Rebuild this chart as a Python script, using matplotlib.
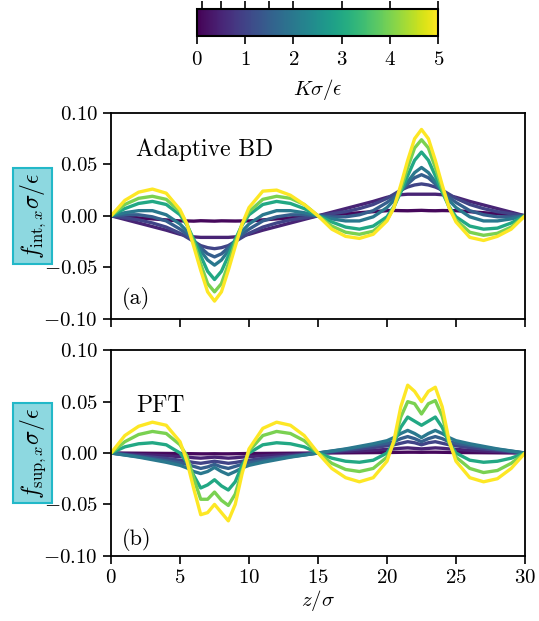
"""Interaction vs. superadiabatic force profiles for several trap strengths."""

import matplotlib

matplotlib.use("Agg")
import matplotlib.pyplot as plt

plt.rcParams["font.family"] = "serif"
plt.rcParams["font.serif"] = ["cmr10"]
plt.rcParams["mathtext.fontset"] = "cm"
plt.rcParams["axes.formatter.use_mathtext"] = True
plt.rcParams["axes.unicode_minus"] = True

# z/sigma sample positions (denser around the peaks)
z = [0, 1, 2, 3, 4, 5, 5.5, 6, 6.5, 7, 7.5, 8, 8.5, 9, 9.5, 10, 11, 12, 13, 14, 15,
     16, 17, 18, 19, 20, 20.5, 21, 21.5, 22, 22.5, 23, 23.5, 24, 24.5, 25, 26, 27, 28, 29, 30]

# K sigma / epsilon of each curve
k_values = [0.1, 0.5, 1.0, 1.5, 2.0, 3.0, 4.0, 5.0]

# (a) Adaptive BD: f_int,x sigma / epsilon
f_int = [
    [0, -0.001, -0.002, -0.003, -0.004, -0.005, -0.005, -0.0052, -0.0048, -0.005, -0.0052,
     -0.0049, -0.005, -0.0051, -0.005, -0.005, -0.004, -0.003, -0.002, -0.001, 0,
     0.001, 0.002, 0.003, 0.004, 0.005, 0.0052, 0.005, 0.0049, 0.0051, 0.0053, 0.005,
     0.0049, 0.0051, 0.005, 0.005, 0.004, 0.003, 0.002, 0.001, 0],
    [0, -0.0035, -0.007, -0.0105, -0.014, -0.018, -0.0195, -0.0205, -0.021, -0.021, -0.021,
     -0.021, -0.021, -0.0205, -0.0195, -0.018, -0.014, -0.0105, -0.007, -0.0035, 0,
     0.0035, 0.007, 0.0105, 0.014, 0.018, 0.0195, 0.0205, 0.021, 0.021, 0.021, 0.021,
     0.021, 0.0205, 0.0195, 0.018, 0.014, 0.0105, 0.007, 0.0035, 0],
    [0, -0.002, -0.004, -0.007, -0.011, -0.017, -0.021, -0.025, -0.029, -0.031, -0.032,
     -0.031, -0.029, -0.025, -0.021, -0.017, -0.011, -0.007, -0.004, -0.002, 0,
     0.002, 0.004, 0.007, 0.011, 0.017, 0.021, 0.025, 0.028, 0.030, 0.031, 0.030,
     0.028, 0.025, 0.021, 0.017, 0.011, 0.007, 0.004, 0.002, 0],
    [0, 0.001, 0.001, -0.001, -0.005, -0.013, -0.018, -0.024, -0.031, -0.037, -0.040,
     -0.037, -0.031, -0.024, -0.018, -0.013, -0.005, -0.001, 0.001, 0.001, 0,
     -0.001, -0.001, 0.001, 0.005, 0.013, 0.018, 0.024, 0.031, 0.037, 0.040, 0.037,
     0.031, 0.024, 0.018, 0.013, 0.005, 0.001, -0.001, -0.001, 0],
    [0, 0.003, 0.005, 0.005, 0.001, -0.008, -0.015, -0.024, -0.034, -0.043, -0.048,
     -0.043, -0.034, -0.024, -0.015, -0.008, 0.001, 0.005, 0.005, 0.003, 0,
     -0.003, -0.005, -0.005, -0.001, 0.008, 0.015, 0.024, 0.033, 0.042, 0.047, 0.042,
     0.033, 0.024, 0.015, 0.008, -0.001, -0.005, -0.005, -0.003, 0],
    [0, 0.007, 0.012, 0.014, 0.011, 0.001, -0.009, -0.023, -0.039, -0.054, -0.062,
     -0.054, -0.039, -0.023, -0.009, 0.001, 0.011, 0.014, 0.012, 0.007, 0,
     -0.006, -0.011, -0.013, -0.010, -0.001, 0.009, 0.023, 0.039, 0.054, 0.062, 0.054,
     0.039, 0.023, 0.009, -0.001, -0.010, -0.013, -0.012, -0.007, 0],
    [0, 0.011, 0.017, 0.019, 0.016, 0.004, -0.008, -0.026, -0.047, -0.066, -0.074,
     -0.066, -0.047, -0.026, -0.008, 0.004, 0.016, 0.019, 0.017, 0.011, 0,
     -0.010, -0.016, -0.018, -0.015, -0.004, 0.008, 0.026, 0.047, 0.066, 0.074, 0.066,
     0.047, 0.026, 0.008, -0.004, -0.016, -0.019, -0.017, -0.011, 0],
    [0, 0.015, 0.023, 0.026, 0.022, 0.006, -0.008, -0.030, -0.053, -0.074, -0.083,
     -0.074, -0.053, -0.030, -0.008, 0.008, 0.024, 0.025, 0.020, 0.011, 0,
     -0.013, -0.020, -0.022, -0.018, -0.005, 0.008, 0.030, 0.054, 0.075, 0.084, 0.075,
     0.054, 0.030, 0.008, -0.006, -0.021, -0.024, -0.020, -0.013, 0],
]

# (b) PFT: f_sup,x sigma / epsilon
f_sup = [
    [0, -0.0001, -0.0002, -0.0003, -0.0004, -0.0005, -0.0006, -0.0007, -0.0008, -0.0008,
     -0.0007, -0.0008, -0.0008, -0.0007, -0.0006, -0.0005, -0.0004, -0.0003, -0.0002,
     -0.0001, 0,
     0.0001, 0.0002, 0.0003, 0.0004, 0.0005, 0.0006, 0.0007, 0.0008, 0.0008, 0.0007,
     0.0008, 0.0008, 0.0007, 0.0006, 0.0005, 0.0004, 0.0003, 0.0002, 0.0001, 0],
    [0, -0.0007, -0.0014, -0.002, -0.0027, -0.0035, -0.004, -0.0046, -0.005, -0.0045,
     -0.004, -0.0045, -0.005, -0.0046, -0.004, -0.0035, -0.0027, -0.002, -0.0014,
     -0.0007, 0,
     0.0007, 0.0014, 0.002, 0.0027, 0.0035, 0.004, 0.0046, 0.005, 0.0045, 0.004,
     0.0045, 0.005, 0.0046, 0.004, 0.0035, 0.0027, 0.002, 0.0014, 0.0007, 0],
    [0, -0.0013, -0.0027, -0.004, -0.0053, -0.007, -0.008, -0.0092, -0.010, -0.009,
     -0.008, -0.009, -0.010, -0.0092, -0.008, -0.007, -0.0053, -0.004, -0.0027,
     -0.0013, 0,
     0.0013, 0.0027, 0.004, 0.0053, 0.007, 0.008, 0.0095, 0.011, 0.010, 0.008,
     0.010, 0.011, 0.0095, 0.008, 0.007, 0.0053, 0.004, 0.0027, 0.0013, 0],
    [0, -0.0018, -0.0036, -0.0055, -0.0075, -0.0095, -0.011, -0.013, -0.015, -0.0135,
     -0.011, -0.0135, -0.015, -0.013, -0.011, -0.0095, -0.0075, -0.0055, -0.0036,
     -0.0018, 0,
     0.0018, 0.0036, 0.0055, 0.0075, 0.0095, 0.011, 0.014, 0.016, 0.014, 0.011,
     0.014, 0.016, 0.014, 0.011, 0.0095, 0.0075, 0.0055, 0.0036, 0.0018, 0],
    [0, -0.002, -0.004, -0.0065, -0.009, -0.012, -0.0145, -0.018, -0.020, -0.018,
     -0.014, -0.018, -0.021, -0.018, -0.0145, -0.012, -0.009, -0.0065, -0.004,
     -0.002, 0,
     0.002, 0.004, 0.0065, 0.009, 0.012, 0.015, 0.019, 0.022, 0.019, 0.015,
     0.019, 0.022, 0.019, 0.015, 0.012, 0.009, 0.0065, 0.004, 0.002, 0],
    [0, 0.006, 0.009, 0.010, 0.008, 0.0, -0.009, -0.022, -0.034, -0.031, -0.026,
     -0.032, -0.036, -0.028, -0.012, 0.0, 0.008, 0.010, 0.009, 0.006, 0,
     -0.005, -0.008, -0.009, -0.007, 0.0, 0.010, 0.025, 0.035, 0.031, 0.027,
     0.031, 0.035, 0.025, 0.010, 0.0, -0.007, -0.009, -0.008, -0.005, 0],
    [0, 0.011, 0.018, 0.021, 0.019, 0.008, -0.003, -0.025, -0.045, -0.045, -0.038,
     -0.046, -0.051, -0.040, -0.017, 0.002, 0.017, 0.021, 0.019, 0.012, 0,
     -0.010, -0.016, -0.018, -0.015, -0.004, 0.010, 0.035, 0.050, 0.048, 0.038,
     0.048, 0.051, 0.036, 0.010, -0.004, -0.015, -0.019, -0.017, -0.010, 0],
    [0, 0.017, 0.026, 0.030, 0.027, 0.011, -0.008, -0.035, -0.060, -0.058, -0.050,
     -0.058, -0.066, -0.050, -0.020, 0.004, 0.024, 0.030, 0.027, 0.017, 0,
     -0.015, -0.024, -0.028, -0.024, -0.008, 0.012, 0.045, 0.066, 0.060, 0.050,
     0.060, 0.064, 0.045, 0.012, -0.008, -0.024, -0.028, -0.025, -0.015, 0],
]

# title, title height, tag, tag height, y label, curves
panels = [
    ("Adaptive BD", 0.82, "(a)", 0.10, r"$f_{\mathrm{int},x}\sigma/\epsilon$", f_int),
    ("PFT", 0.73, "(b)", 0.08, r"$f_{\mathrm{sup},x}\sigma/\epsilon$", f_sup),
]

cmap = plt.get_cmap("viridis")
norm = matplotlib.colors.Normalize(vmin=0, vmax=5)

fig = plt.figure(figsize=(5.39, 6.21), dpi=100)
ax_a = fig.add_axes([0.206, 0.487, 0.768, 0.331])
ax_b = fig.add_axes([0.206, 0.105, 0.768, 0.331], sharex=ax_a)

for ax, (title, ty, tag, tagy, ylabel, curves) in zip([ax_a, ax_b], panels):
    for k, values in zip(k_values, curves):
        ax.plot(z, values, color=cmap(norm(k)), linewidth=2.4, solid_capstyle="round",
                solid_joinstyle="round")
    ax.set_xlim(0, 30)
    ax.set_ylim(-0.1, 0.1)
    ax.set_yticks([-0.1, -0.05, 0.0, 0.05, 0.1])
    ax.set_xticks([0, 5, 10, 15, 20, 25, 30])
    ax.yaxis.set_major_formatter(matplotlib.ticker.FormatStrFormatter(r"$%.2f$"))
    ax.tick_params(labelsize=15, length=6, width=1.2, direction="out")
    for spine in ax.spines.values():
        spine.set_linewidth(1.3)
    ax.text(0.06, ty, title, transform=ax.transAxes, fontsize=17, va="center")
    ax.text(0.025, tagy, tag, transform=ax.transAxes, fontsize=16, va="center")
    ax.set_ylabel(
        ylabel,
        fontsize=17,
        bbox=dict(boxstyle="square,pad=0.2", facecolor="#8dd8e0", edgecolor="#22b8c8",
                  linewidth=1.5),
    )
    ax.yaxis.set_label_coords(-0.153, 0.5)

ax_a.tick_params(labelbottom=False)
ax_b.xaxis.set_major_formatter(matplotlib.ticker.FormatStrFormatter(r"$%d$"))
ax_b.set_xlabel(r"$z/\sigma$", fontsize=15, labelpad=1)

# colorbar on top
cax = fig.add_axes([0.365, 0.9425, 0.448, 0.0425])
sm = matplotlib.cm.ScalarMappable(norm=norm, cmap=cmap)
cb = fig.colorbar(sm, cax=cax, orientation="horizontal")
cb.set_ticks([0, 1, 2, 3, 4, 5])
cb.ax.xaxis.set_major_formatter(matplotlib.ticker.FormatStrFormatter(r"$%d$"))
cb.ax.tick_params(labelsize=15, length=6, width=1.2, pad=5)
cb.outline.set_linewidth(1.5)
cb.set_label(r"$K\sigma/\epsilon$", fontsize=15, labelpad=6)
# top ticks mark the K values of the curves
top = cax.secondary_xaxis("top")
top.set_xticks(k_values)
top.tick_params(length=6, width=1.2, labeltop=False)

fig.savefig("out.png", dpi=100)
